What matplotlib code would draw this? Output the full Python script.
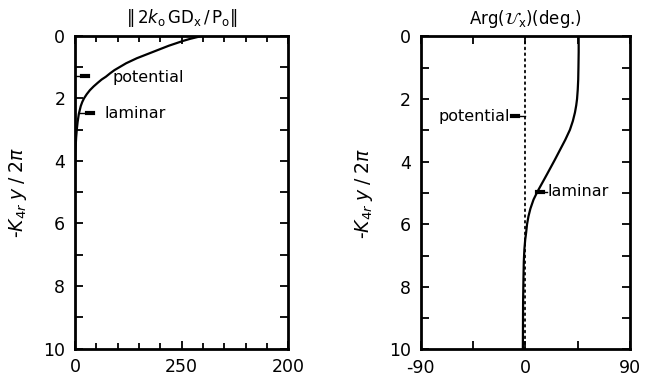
import numpy as np
import matplotlib
matplotlib.use('Agg')
import matplotlib.pyplot as plt
from matplotlib.ticker import MultipleLocator

# left panel: magnitude vs depth (laminar curve)
mag_y = [0, 0.05, 0.1, 0.17, 0.24, 0.32, 0.4, 0.48, 0.56, 0.64, 0.72, 0.8,
         0.88, 1.0, 1.1, 1.2, 1.31, 1.4, 1.5, 1.62, 1.74, 1.87, 2.0, 2.12,
         2.25, 2.5, 2.75, 3.0, 3.25, 3.5, 3.75, 4.0, 4.5, 5.0, 10.0]
mag_x = [120, 114, 108, 101, 95, 88, 82, 76, 70, 64, 58, 53,
         48, 42, 37, 33, 29, 25, 21.5, 17.5, 14, 11, 8.5, 6.8,
         5.4, 3.6, 2.5, 1.7, 1.1, 0.7, 0.35, 0.15, 0.05, 0.0, 0.0]
mag_xticks = [0, 100, 200]
mag_xlabels = ['0', '250', '200']

# right panel: phase vs depth
arg_y = [0, 0.5, 1.0, 1.38, 1.7, 2.0, 2.2, 2.43, 2.7, 2.98, 3.3, 3.62,
         3.94, 4.16, 4.4, 4.67, 4.96, 5.21, 5.5, 5.75, 6.0, 6.27, 6.5,
         6.81, 7.2, 7.77, 8.5, 10.0]
arg_lam = [46, 46, 45.8, 45.6, 45.2, 44.6, 43.9, 42.8, 41, 38.5, 34.5, 30,
           25.5, 22.3, 18.8, 14.8, 10.5, 7.2, 4.5, 2.8, 1.6, 0.8, 0,
           -0.7, -1.2, -1.5, -1.8, -2.0]
arg_pot_y = [0, 10]
arg_pot = [0, 0]
arg_xticks = [-90, 0, 90]

ylabel = r'-$K_{4r}\;y\;/\;2\pi$'

plt.rcParams['font.family'] = 'DejaVu Sans'
plt.rcParams['mathtext.fontset'] = 'dejavusans'
plt.rcParams['axes.unicode_minus'] = False

fig = plt.figure(figsize=(6.52, 3.84), dpi=100)
ax1 = fig.add_axes([0.115, 0.092, 0.327, 0.815])
ax2 = fig.add_axes([0.645, 0.090, 0.321, 0.815])

for ax in (ax1, ax2):
    for s in ax.spines.values():
        s.set_linewidth(2.0)
    ax.set_ylim(10, 0)
    ax.yaxis.set_major_locator(MultipleLocator(2))
    ax.yaxis.set_minor_locator(MultipleLocator(1))
    ax.tick_params(which='both', direction='in', top=True, right=True,
                   width=1.3, labelsize=12.5, pad=7)
    ax.tick_params(which='major', length=6)
    ax.tick_params(which='minor', length=4)
    ax.tick_params(axis='y', which='minor', length=6)
    ax.set_ylabel(ylabel, fontsize=13.5, labelpad=10)

# left
ax1.plot(mag_x, mag_y, color='black', lw=1.6)
ax1.set_xlim(0, 200)
ax1.set_xticks(mag_xticks)
ax1.set_xticklabels(mag_xlabels)
ax1.xaxis.set_minor_locator(MultipleLocator(20))
ax1.set_title(r'$\Vert\,2\mathit{k}_{\mathrm{o}}\,\mathrm{GD}_{\mathrm{x}}\,/\,\mathrm{P}_{\mathrm{o}}\Vert$',
              fontsize=12, pad=9)
ax1.plot([0, 12], [1.3, 1.3], color='black', lw=1.0)
ax1.plot([7, 12], [1.3, 1.3], color='black', lw=3.0)
ax1.text(35, 1.35, 'potential', fontsize=11.5, va='center')
ax1.plot([4, 17], [2.48, 2.48], color='black', lw=1.0)
ax1.plot([11, 17], [2.48, 2.48], color='black', lw=3.0)
ax1.text(28, 2.48, 'laminar', fontsize=11.5, va='center')

# right
ax2.plot(arg_pot, arg_pot_y, color='black', lw=1.3, ls=(0, (1, 2.2)),
         dash_capstyle='round')
ax2.plot(arg_lam, arg_y, color='black', lw=1.6)
ax2.set_xlim(-90, 90)
ax2.set_xticks(arg_xticks)
ax2.xaxis.set_minor_locator(MultipleLocator(45))
ax2.tick_params(axis='x', which='minor', length=6)
ax2.set_title(r'Arg($\mathcal{U}_{\mathrm{x}}$)(deg.)', fontsize=12, pad=9)
ax2.plot([-11, 0], [2.55, 2.55], color='black', lw=1.0)
ax2.plot([-11, -6], [2.55, 2.55], color='black', lw=3.0)
ax2.text(-13, 2.56, 'potential', fontsize=11.5, va='center', ha='right')
ax2.plot([10.3, 19], [4.96, 4.96], color='black', lw=1.0)
ax2.plot([10.3, 15], [4.96, 4.96], color='black', lw=3.0)
ax2.text(19.5, 4.96, 'laminar', fontsize=11.5, va='center')

fig.savefig('out.png', dpi=100)
